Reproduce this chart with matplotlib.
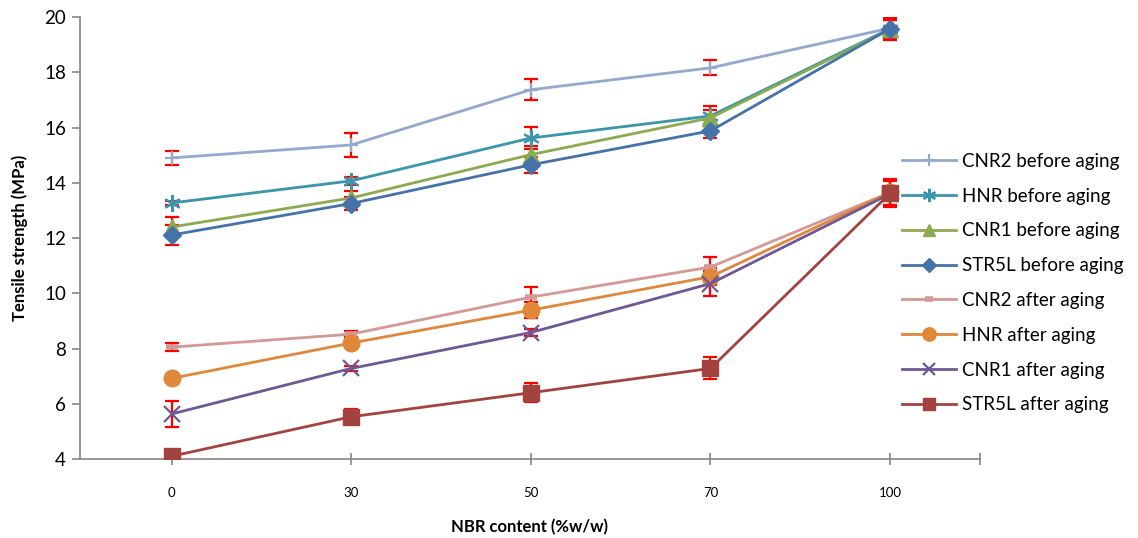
import matplotlib
matplotlib.use("Agg")
import matplotlib.pyplot as plt
import numpy as np

plt.rcParams['font.family'] = ['Lato', 'DejaVu Sans']

nbr_content = ["0", "30", "50", "70", "100"]

series_names = [
    "CNR2 before aging", "HNR before aging", "CNR1 before aging", "STR5L before aging",
    "CNR2 after aging", "HNR after aging", "CNR1 after aging", "STR5L after aging",
]

cnr2_before = [14.90, 15.37, 17.37, 18.16, 19.60]
hnr_before = [13.27, 14.07, 15.62, 16.42, 19.58]
cnr1_before = [12.40, 13.45, 15.02, 16.35, 19.55]
str5l_before = [12.11, 13.25, 14.65, 15.88, 19.58]
cnr2_after = [8.05, 8.52, 9.86, 10.95, 13.65]
hnr_after = [6.92, 8.20, 9.39, 10.60, 13.65]
cnr1_after = [5.63, 7.28, 8.58, 10.35, 13.60]
str5l_after = [4.10, 5.53, 6.40, 7.28, 13.62]

cnr2_before_err = [0.24, 0.44, 0.39, 0.27, 0.30]
hnr_before_err = [0.06, 0.15, 0.40, 0.35, 0.30]
cnr1_before_err = [0.35, 0.25, 0.30, 0.30, 0.35]
str5l_before_err = [0.35, 0.25, 0.30, 0.25, 0.40]
cnr2_after_err = [0.15, 0.12, 0.35, 0.35, 0.45]
hnr_after_err = [0.05, 0.10, 0.30, 0.30, 0.45]
cnr1_after_err = [0.47, 0.10, 0.12, 0.45, 0.45]
str5l_after_err = [0.05, 0.28, 0.35, 0.40, 0.50]

values = [cnr2_before, hnr_before, cnr1_before, str5l_before,
          cnr2_after, hnr_after, cnr1_after, str5l_after]
errors = [cnr2_before_err, hnr_before_err, cnr1_before_err, str5l_before_err,
          cnr2_after_err, hnr_after_err, cnr1_after_err, str5l_after_err]

colors = ["#93A9CF", "#3A96AC", "#8CAB4F", "#4672AA",
          "#D49895", "#E0873A", "#6E5896", "#A3433F"]
asterisk = (6, 2, 0)
markers = ["+", asterisk, "^", "D", "_", "o", "x", "s"]
msizes = [10, 12, 11, 9, 8, 12, 11, 11]
mews = [1.5, 1.5, 1, 1, 4, 1, 1.6, 1]

fig = plt.figure(figsize=(11.38, 5.38), dpi=100)
ax = fig.add_axes([0.0703, 0.1468, 0.7908, 0.8215])

x = np.arange(1, len(nbr_content) + 1)
for vals, errs, col, mk, ms, mew, name in zip(values, errors, colors, markers, msizes, mews, series_names):
    ax.errorbar(x, vals, yerr=errs, fmt="none", ecolor="#FF0000", elinewidth=1.6,
                capsize=5, capthick=1.6, zorder=2)
    ax.plot(x, vals, color=col, lw=2, marker=mk, markersize=ms, markeredgewidth=mew,
            markerfacecolor=col, markeredgecolor=col, label=name, zorder=3)

ax.set_xlim(0.49, 5.5)
ax.set_ylim(4, 20)
ax.set_yticks(np.arange(4, 21, 2))
ax.set_xticks(list(x) + [5.5])
ax.set_xticklabels(nbr_content + [""])

for side in ("top", "right"):
    ax.spines[side].set_visible(False)
for side in ("left", "bottom"):
    ax.spines[side].set_color("#868686")
    ax.spines[side].set_linewidth(1.2)

ax.tick_params(axis="y", direction="out", length=6, width=1.2, color="#868686",
               labelsize=13.5, pad=4)
ax.tick_params(axis="x", direction="inout", length=9, width=1.2, color="#868686",
               labelsize=9.5, pad=16)

ax.set_ylabel("Tensile strength (MPa)", fontsize=12, fontweight="bold", labelpad=12)
ax.set_xlabel("NBR content (%w/w)", fontsize=12, fontweight="bold", labelpad=14)

ax.legend(loc="center left", bbox_to_anchor=(0.913, 0.398), frameon=False,
          fontsize=13.5, handlelength=2.9, handletextpad=0.3, labelspacing=0.95,
          borderpad=0, borderaxespad=0, markerscale=0.8)

fig.savefig("out.png", dpi=100)
